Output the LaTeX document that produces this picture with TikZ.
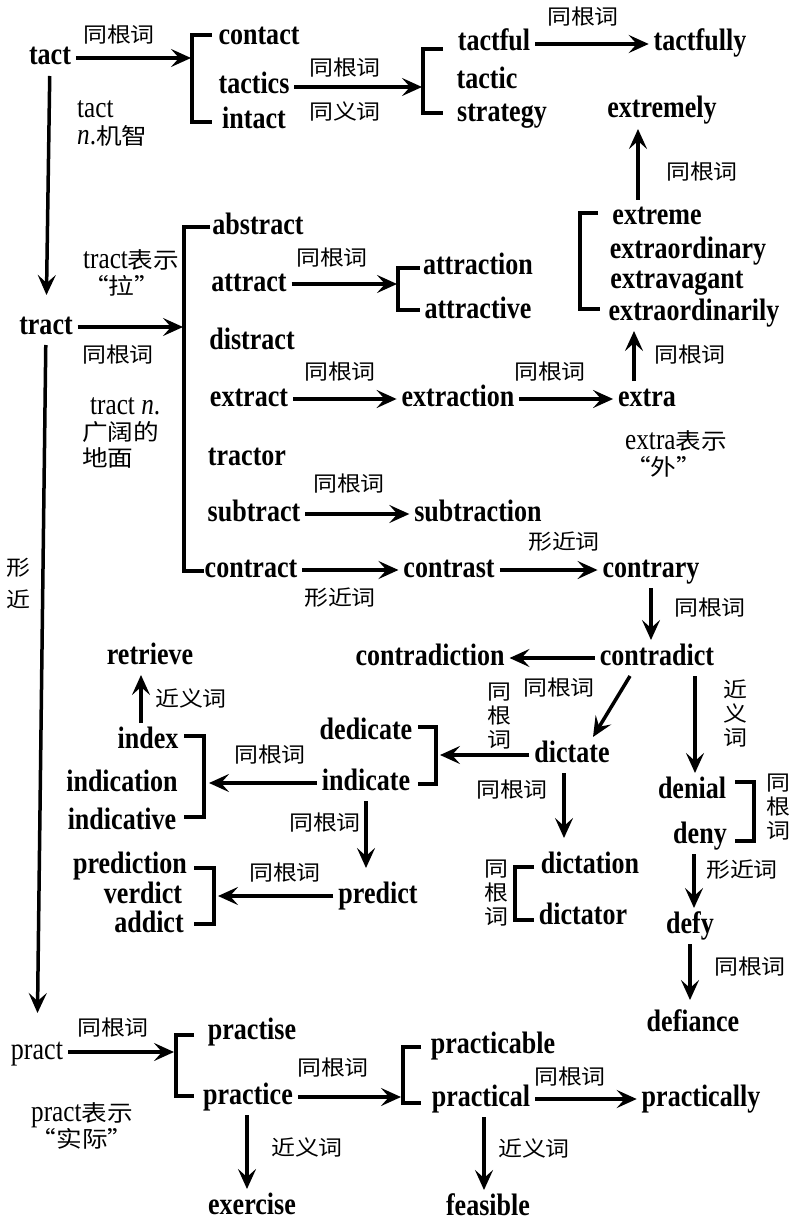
\documentclass[tikz,border=0pt]{standalone}
\usepackage{fontspec}
\setmainfont{Liberation Serif}[FakeStretch=0.84]
\newfontfamily\cjk{Noto Sans CJK SC}[Scale=0.75,FakeStretch=1.14]
\usetikzlibrary{arrows.meta}

\begin{document}
\begin{tikzpicture}[x=1pt,y=-1pt]
      \useasboundingbox(0,0) rectangle (789,1222);
      \tikzset{W/.style = {font=\fontsize{31}{33}\selectfont\bfseries, inner sep=0pt, outer sep=5pt, text height=20pt, text depth=6pt}}
      \tikzset{R/.style = {font=\fontsize{31}{33}\selectfont, inner sep=0pt, outer sep=5pt, text height=20pt, text depth=6pt}}
      \tikzset{L/.style = {font=\cjk\fontsize{28}{24}\selectfont, inner sep=0pt, align=center}}
      \tikzset{N/.style = {font=\fontsize{30}{26}\selectfont, inner sep=0pt, align=left}}
      \tikzset{E/.style = {draw, line width=3.5pt, -{Stealth[length=20pt,width=18pt,inset=8pt]}}}
      \tikzset{B/.style = {draw, line width=3.2pt}}
      \node[W](tact) at (50,58) {tact};
      \node[W](contact) at (259,38) {contact};
      \node[W](tactics) at (254,87) {tactics};
      \node[W](intact) at (254,122) {intact};
      \node[W](tactful) at (494,44) {tactful};
      \node[W](tactic) at (487,82) {tactic};
      \node[W](strategy) at (502,115) {strategy};
      \node[W](tactfully) at (700,44) {tactfully};
      \node[W](extremely) at (662,111) {extremely};
      \node[W](extreme) at (657,218) {extreme};
      \node[W](extraord) at (688,252) {extraordinary};
      \node[W](extravagant) at (677,281) {extravagant};
      \node[W](extraordly) at (694,313) {extraordinarily};
      \node[W](abstract) at (258,228) {abstract};
      \node[W](attract) at (249,284) {attract};
      \node[W](attraction) at (478,268) {attraction};
      \node[W](attractive) at (478,312) {attractive};
      \node[W](tract) at (46,327) {tract};
      \node[W](distract) at (252,342) {distract};
      \node[W](extract) at (249,399) {extract};
      \node[W](extraction) at (458,399) {extraction};
      \node[W](extra) at (647,399) {extra};
      \node[W](tractor) at (247,458) {tractor};
      \node[W](subtract) at (254,514) {subtract};
      \node[W](subtraction) at (478,514) {subtraction};
      \node[W](contract) at (251,570) {contract};
      \node[W](contrast) at (449,570) {contrast};
      \node[W](contrary) at (651,570) {contrary};
      \node[W](contradiction) at (430,658) {contradiction};
      \node[W](contradict) at (657,658) {contradict};
      \node[W](retrieve) at (150,657) {retrieve};
      \node[W](dedicate) at (366,732) {dedicate};
      \node[W](indicate) at (366,783) {indicate};
      \node[W](dictate) at (572,755) {dictate};
      \node[W](index) at (148,741) {index};
      \node[W](indication) at (122,784) {indication};
      \node[W](indicative) at (122,822) {indicative};
      \node[W](predict) at (378,896) {predict};
      \node[W](prediction) at (130,866) {prediction};
      \node[W](verdict) at (143,896) {verdict};
      \node[W](addict) at (149,925) {addict};
      \node[W](dictation) at (590,866) {dictation};
      \node[W](dictator) at (583,917) {dictator};
      \node[W](denial) at (692,791) {denial};
      \node[W](deny) at (700,836) {deny};
      \node[W](defy) at (690,926) {defy};
      \node[W](defiance) at (693,1024) {defiance};
      \node[R](pract) at (37,1052) {pract};
      \node[W](practise) at (252,1032) {practise};
      \node[W](practice) at (248,1097) {practice};
      \node[W](practicable) at (493,1046) {practicable};
      \node[W](practical) at (481,1099) {practical};
      \node[W](practically) at (701,1099) {practically};
      \node[W](exercise) at (252,1207) {exercise};
      \node[W](feasible) at (488,1208) {feasible};
      \node[N,anchor=west,font=\fontsize{30}{27}\selectfont](ntact) at (77,123) {tact\\\textit{n}.{\cjk 机智}};
      \node[N,anchor=west](ntract) at (83,273) {tract{\cjk 表示}\\{\cjk “拉”}};
      \node[N,anchor=west](nfield) at (82,433) {\hspace*{8pt}tract \textit{n}.\\{\cjk 广阔的}\\{\cjk 地面}};
      \node[N,anchor=west](nextra) at (625,454) {extra{\cjk 表示}\\{\cjk “外”}};
      \node[N,align=center](npract) at (82,1126) {pract{\cjk 表示}\\{\cjk “实际”}};
      \node[L](l1) at (119,35) {同根词};
      \node[L](l2) at (345,68) {同根词};
      \node[L](l3) at (345,112) {同义词};
      \node[L](l4) at (583,17) {同根词};
      \node[L](l5) at (702,172) {同根词};
      \node[L](l6) at (690,355) {同根词};
      \node[L](l7) at (332,258) {同根词};
      \node[L](l8) at (118,355) {同根词};
      \node[L](l9) at (340,372) {同根词};
      \node[L](l10) at (550,372) {同根词};
      \node[L](l11) at (349,484) {同根词};
      \node[L](l12) at (340,598) {形近词};
      \node[L](l13) at (564,542) {形近词};
      \node[L](l14) at (710,608) {同根词};
      \node[L](l15) at (559,688) {同根词};
      \node[L](l16) at (499,716) {同\\根\\词};
      \node[L](l17) at (735,714) {近\\义\\词};
      \node[L](l18) at (191,698) {近义词};
      \node[L](l19) at (270,755) {同根词};
      \node[L](l20) at (512,790) {同根词};
      \node[L](l21) at (325,823) {同根词};
      \node[L](l22) at (285,873) {同根词};
      \node[L](l23) at (496,893) {同\\根\\词};
      \node[L](l24) at (778,807) {同\\根\\词};
      \node[L](l25) at (742,870) {形近词};
      \node[L](l26) at (750,967) {同根词};
      \node[L](l27) at (113,1028) {同根词};
      \node[L](l28) at (333,1068) {同根词};
      \node[L](l29) at (570,1077) {同根词};
      \node[L](l30) at (307,1147) {近义词};
      \node[L](l31) at (534,1148) {近义词};
      \node[L,font=\cjk\fontsize{28}{32}\selectfont](l32) at (18,584) {形\\近};
      \draw[B](212,35) -- (192,35) -- (192,122) -- (212,122);
      \draw[B](443,49) -- (423,49) -- (423,113) -- (443,113);
      \draw[B](598,213) -- (580,213) -- (580,309) -- (600,309);
      \draw[B](210,227) -- (184,227) -- (184,571) -- (204,571);
      \draw[B](420,268) -- (398,268) -- (398,310) -- (420,310);
      \draw[B](418,727) -- (436,727) -- (436,784) -- (418,784);
      \draw[B](184,736) -- (204,736) -- (204,817) -- (184,817);
      \draw[B](194,868) -- (214,868) -- (214,924) -- (194,924);
      \draw[B](534,867) -- (515,867) -- (515,920) -- (534,920);
      \draw[B](735,782) -- (754,782) -- (754,841) -- (735,841);
      \draw[B](194,1035) -- (176,1035) -- (176,1096) -- (194,1096);
      \draw[B](421,1047) -- (403,1047) -- (403,1103) -- (421,1103);
      \coordinate(a1) at (191,58);
      \coordinate(a2) at (422,87);
      \coordinate(a4) at (183,327);
      \coordinate(a5) at (397,284);
      \coordinate(a6) at (440,755);
      \coordinate(a7) at (209,783);
      \coordinate(a8) at (218,896);
      \coordinate(a11) at (174,1052);
      \coordinate(a12) at (401,1097);
      \draw[E](tact) to (a1);
      \draw[E,shorten >=14pt](tact) to (tract);
      \draw[E](tactics) to (a2);
      \draw[E](tactful) to (tactfully);
      \draw[E]([xshift=-19pt]extreme.north) to ([xshift=-24pt]extremely.south);
      \draw[E]([xshift=-13pt]extra.north) to ([xshift=-13pt]extra.north |- extraordly.south);
      \draw[E](attract) to (a5);
      \draw[E](tract) to (a4);
      \draw[E](extract) to (extraction);
      \draw[E](extraction) to (extra);
      \draw[E](subtract) to (subtraction);
      \draw[E](contract) to (contrast);
      \draw[E](contrast) to (contrary);
      \draw[E,shorten >=21pt](tract) to (pract);
      \draw[E](contrary) to (contrary |- contradict.north);
      \draw[E](contradict) to (contradiction);
      \draw[E]([xshift=-27pt]contradict.south) to ([xshift=21pt]dictate.north);
      \draw[E]([xshift=38pt]contradict.south) to ([xshift=38pt]contradict.south |- denial.north);
      \draw[E](dictate) to (a6);
      \draw[E](indicate) to (a7);
      \draw[E]([xshift=-7pt]index.north) to ([xshift=-7pt]index.north |- retrieve.south);
      \draw[E,shorten >=10pt](indicate) to (indicate |- predict.north);
      \draw[E](predict) to (a8);
      \draw[E,shorten >=10pt]([xshift=-8pt]dictate.south) to ([xshift=-8pt]dictate.south |- dictation.north);
      \draw[E]([xshift=-6pt]deny.south) to ([xshift=-6pt]deny.south |- defy.north);
      \draw[E,shorten >=6pt](defy) to (defy |- defiance.north);
      \draw[E](pract) to (a11);
      \draw[E](practice) to (a12);
      \draw[E](practical) to (practically);
      \draw[E]([xshift=-1pt]practice.south) to ([xshift=-1pt]practice.south |- exercise.north);
      \draw[E]([xshift=3pt]practical.south) to ([xshift=3pt]practical.south |- feasible.north);
    \end{tikzpicture}
\end{document}
